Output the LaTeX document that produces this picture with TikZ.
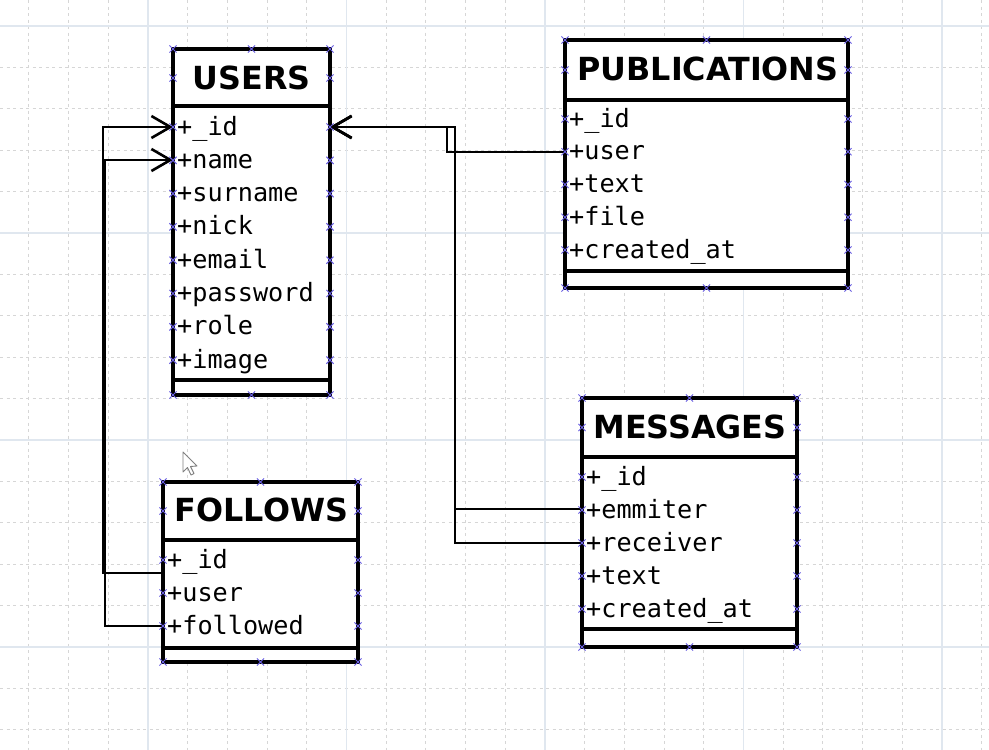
\documentclass[tikz,border=0pt]{standalone}
\usepackage{fontspec}
\setsansfont{DejaVu Sans}
\setmonofont{DejaVu Sans Mono}
\usetikzlibrary{arrows.meta}
\definecolor{minorgrid}{RGB}{214,214,214}
\definecolor{majorgrid}{RGB}{224,231,239}
\definecolor{xmcol}{RGB}{105,95,225}
\newcommand\boxmarks[5]{%
  \pgfmathsetmacro\mx{(#1+#2)/2}%
  \foreach \yy in {#3,#4} {\foreach \xx in {#1,\mx,#2} {\pic at (\xx,\yy) {xmk};}}%
  \foreach \yy in {#5} {\pic at (#1,\yy) {xmk}; \pic at (#2,\yy) {xmk};}%
}
\begin{document}
\begin{tikzpicture}[x=1pt,y=-1pt,
  box/.style={draw=black, line width=3.1pt, fill=white},
  sepline/.style={draw=black, line width=3.1pt},
  title/.style={font=\sffamily\bfseries\fontsize{31.8}{32}\selectfont, anchor=base, inner sep=0pt},
  field/.style={font=\ttfamily\fontsize{25.2}{26}\selectfont, anchor=base west, inner sep=0pt},
  conn/.style={draw=black, line width=2.6pt},
  arr/.style={-{Straight Barb[length=19pt,width=22pt]}},
  xmk/.pic={\draw[xmcol,line width=1pt] (-3.6,-3.6)--(3.6,3.6) (-3.6,3.6)--(3.6,-3.6);},
  minor/.style={minorgrid, line width=1pt, dash pattern=on 3pt off 3.5pt},
  major/.style={majorgrid, line width=1.6pt}
]
\useasboundingbox (0,0) rectangle (989,750);
\fill[white] (0,0) rectangle (989,750);
% grid
\foreach \k in {-3,...,21} {\draw[minor] ({148+39.7*\k},0) -- ++(0,750);}
\foreach \k in {0,...,17} {\draw[minor] (0,{26+41.4*\k}) -- ++(989,0);}
\foreach \k in {0,...,4} {\draw[major] ({148+198.5*\k},0) -- ++(0,750);}
\foreach \k in {0,...,3} {\draw[major] (0,{26+207*\k}) -- ++(989,0);}

% connector end points
\coordinate (uidw) at (173,127);
\coordinate (unamew) at (173,160);
\coordinate (uide) at (330,127);
\coordinate (fa) at (163,573);
\coordinate (fb) at (163,626);
\coordinate (puser) at (565,152);
\coordinate (mem) at (582,509);
\coordinate (mrec) at (582,543);

% connectors
\draw[conn,arr] (fa) -- ++(-60,0) |- (uidw);
\draw[conn,arr] (fb) -- ++(-58,0) |- (unamew);
\draw[conn,arr] (puser) -- ++(-118,0) |- (uide);
\draw[conn,arr] (mrec) -- ++(-127,0) |- (uide);
\draw[conn,arr] (mem) -- ++(-127,0) |- (uide);

% USERS
\draw[box] (173,49) rectangle (330,395);
\draw[sepline] (173,106) -- (330,106) (173,380) -- (330,380);
\node[title] (users) at (251.5,89) {USERS};
\foreach \t [count=\i] in {+\_id,+name,+surname,+nick,+email,+password,+role,+image}
  \node[field] (u\i) at (177,{135+33.3*(\i-1)}) {\t};
\boxmarks{173}{330}{49}{395}{78,127,160.3,193.6,226.9,260.2,293.5,326.8,360.1}

% PUBLICATIONS
\draw[box] (565,40) rectangle (848,288);
\draw[sepline] (565,100) -- (848,100) (565,271) -- (848,271);
\node[title] (publications) at (708,80) {PUBLICATIONS};
\foreach \t [count=\i] in {+\_id,+user,+text,+file,+created\_at}
  \node[field] (p\i) at (569,{127+32.75*(\i-1)}) {\t};
\boxmarks{565}{848}{40}{288}{70,119,151.75,184.5,217.25,250}

% MESSAGES
\draw[box] (582,398) rectangle (797,647);
\draw[sepline] (582,457) -- (797,457) (582,629) -- (797,629);
\node[title] (messages) at (690,438) {MESSAGES};
\foreach \t [count=\i] in {+\_id,+emmiter,+receiver,+text,+created\_at}
  \node[field] (m\i) at (586,{485+33*(\i-1)}) {\t};
\boxmarks{582}{797}{398}{647}{427.5,477,510,543,576,609}

% FOLLOWS
\draw[box] (163,482) rectangle (358,662);
\draw[sepline] (163,540) -- (358,540) (163,648) -- (358,648);
\node[title] (follows) at (261.5,521.5) {FOLLOWS};
\foreach \t [count=\i] in {+\_id,+user,+followed}
  \node[field] (f\i) at (167,{568+33*(\i-1)}) {\t};
\boxmarks{163}{358}{482}{662}{511,560,593,626}

% mouse pointer
\draw[gray, line width=0.9pt, fill=white, line join=round]
  (183,452) -- (183,472) -- (187.5,467.5) -- (191,475) -- (194,473.5) -- (190.5,466.5) -- (197,466) -- cycle;
\end{tikzpicture}
\end{document}
